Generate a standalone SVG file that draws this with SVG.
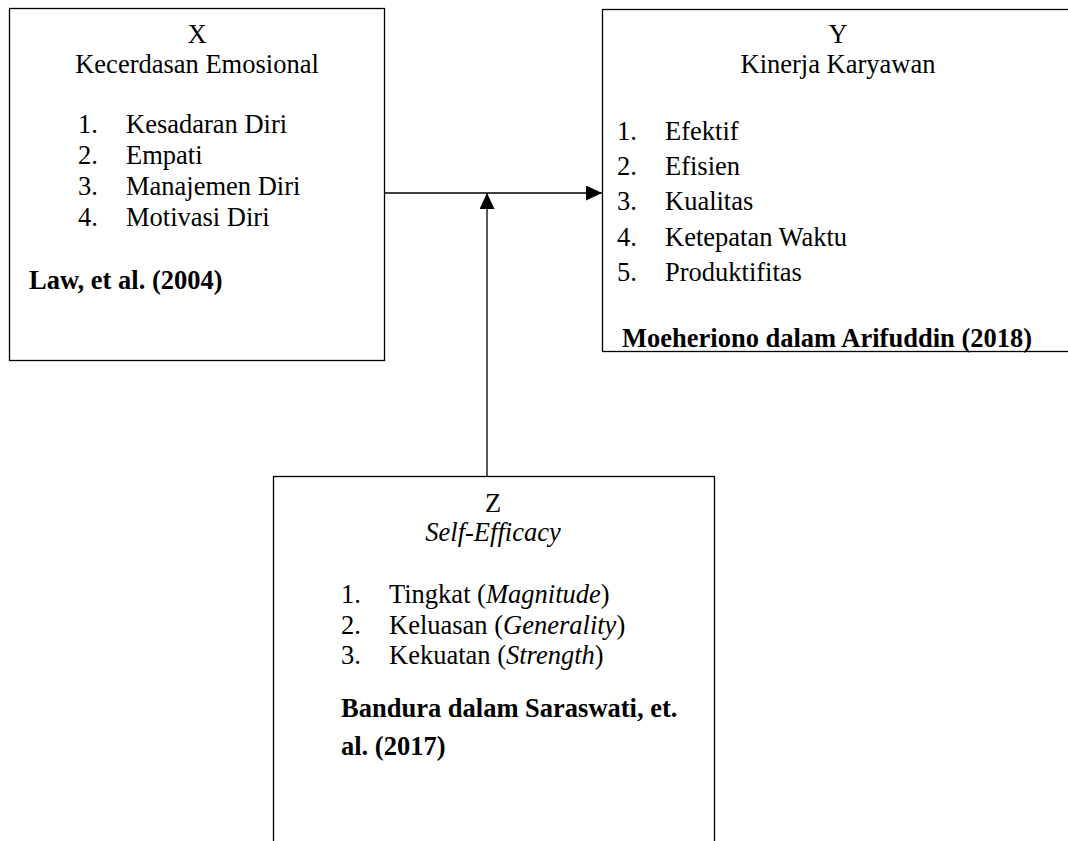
<svg xmlns="http://www.w3.org/2000/svg" width="1068" height="841" viewBox="0 0 1068 841">
<style>
.box{fill:#fff;stroke:#000;stroke-width:1.3}
.t{font-family:"Liberation Serif","Times New Roman",serif;font-size:26.5px;fill:#000}
.c{text-anchor:middle}
.b{font-weight:bold}
.i{font-style:italic}
.ln{stroke:#000;stroke-width:1.3;fill:none}
</style>
<defs>
<marker id="ah" markerUnits="userSpaceOnUse" markerWidth="16" markerHeight="16" refX="16" refY="7.5" orient="auto">
<polygon points="0,0 16,7.5 0,15" fill="#000"/>
</marker>
</defs>
<rect width="1068" height="841" fill="#fff"/>
<g id="node-x">
<rect class="box" x="9.5" y="8.5" width="375" height="352"/>
<text class="t c" x="197" y="43">X</text>
<text class="t c" x="197" y="73">Kecerdasan Emosional</text>
<text class="t" x="78" y="133">1.</text><text class="t" x="126" y="133">Kesadaran Diri</text>
<text class="t" x="78" y="164">2.</text><text class="t" x="126" y="164">Empati</text>
<text class="t" x="78" y="195">3.</text><text class="t" x="126" y="195">Manajemen Diri</text>
<text class="t" x="78" y="226">4.</text><text class="t" x="126" y="226">Motivasi Diri</text>
<text class="t b" x="29" y="289">Law, et al. (2004)</text>
</g>
<g id="node-y">
<rect class="box" x="602.5" y="9.5" width="480" height="342"/>
<text class="t c" x="838" y="43">Y</text>
<text class="t c" x="838" y="73">Kinerja Karyawan</text>
<text class="t" x="617" y="140">1.</text><text class="t" x="665" y="140">Efektif</text>
<text class="t" x="617" y="175">2.</text><text class="t" x="665" y="175">Efisien</text>
<text class="t" x="617" y="210">3.</text><text class="t" x="665" y="210">Kualitas</text>
<text class="t" x="617" y="246">4.</text><text class="t" x="665" y="246">Ketepatan Waktu</text>
<text class="t" x="617" y="281">5.</text><text class="t" x="665" y="281">Produktifitas</text>
<text class="t b" x="622" y="347">Moeheriono dalam Arifuddin (2018)</text>
</g>
<g id="node-z">
<rect class="box" x="273.5" y="476.5" width="441" height="380"/>
<text class="t c" x="493" y="512">Z</text>
<text class="t c i" x="493" y="541">Self-Efficacy</text>
<text class="t" x="341" y="603">1.</text><text class="t" x="389" y="603">Tingkat (<tspan class="i">Magnitude</tspan>)</text>
<text class="t" x="341" y="634">2.</text><text class="t" x="389" y="634">Keluasan (<tspan class="i">Generality</tspan>)</text>
<text class="t" x="341" y="664">3.</text><text class="t" x="389" y="664">Kekuatan (<tspan class="i">Strength</tspan>)</text>
<text class="t b" x="341" y="717">Bandura dalam Saraswati, et.</text>
<text class="t b" x="341" y="755">al. (2017)</text>
</g>
<g id="connectors">
<line class="ln" x1="384" y1="193" x2="602" y2="193" marker-end="url(#ah)"/>
<line class="ln" x1="487" y1="476" x2="487" y2="193" marker-end="url(#ah)"/>
</g>
</svg>
